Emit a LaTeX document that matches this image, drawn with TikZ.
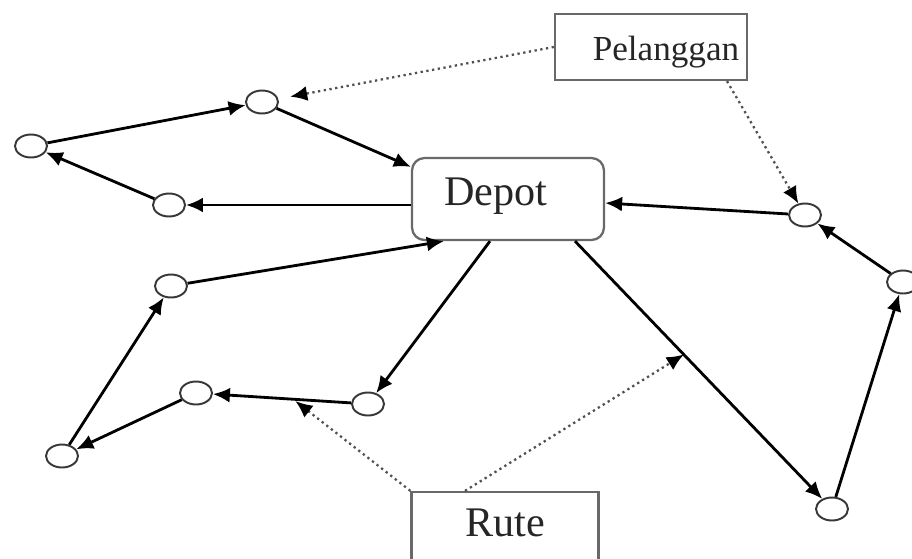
\documentclass[tikz,border=0pt]{standalone}
\usepackage{fontspec}
\setmainfont{Liberation Serif}
\usetikzlibrary{arrows.meta, shapes.geometric}

\definecolor{borde}{RGB}{105,105,105}
\definecolor{contorno}{RGB}{55,55,55}
\definecolor{puntos}{RGB}{80,80,80}

\begin{document}
\begin{tikzpicture}[x=0.02cm, y=-0.02cm,
    cliente/.style={ellipse, draw=contorno, line width=1.1pt, fill=white,
      minimum width=0.64cm, minimum height=0.46cm, inner sep=0pt},
    caja/.style={draw=borde, line width=1.3pt, fill=white, inner sep=0pt},
    etiqueta/.style={font=\fontsize{24}{28}\selectfont, text=black!85},
    ruta/.style={line width=1.6pt, -{Latex[length=0.34cm, width=0.3cm]}},
    punteada/.style={draw=puntos, line width=1.3pt, dash pattern=on 1.3pt off 2pt,
      -{Latex[length=0.34cm, width=0.3cm, color=black]}}]

  % Marco
  \useasboundingbox (0,0) rectangle (912,558);
  \clip (0,0) rectangle (912,558);

  % Deposito
  \node[caja, rounded corners=0.25cm, minimum width=3.84cm, minimum height=1.64cm,
    label={[etiqueta, xshift=-0.24cm, yshift=0.06cm]center:Depot}] (depot) at (508,199) {};

  % Cajas de texto
  \node[caja, minimum width=3.84cm, minimum height=1.32cm,
    label={[etiqueta, font=\fontsize{20}{24}\selectfont, xshift=0.3cm, yshift=-0.11cm]center:Pelanggan}]
    (pelanggan) at (651,47) {};
  \node[caja, minimum width=3.74cm, minimum height=1.8cm,
    label={[etiqueta, yshift=0.29cm]center:Rute}] (rute) at (505,537) {};

  % Clientes
  \node[cliente] (c1) at (262,102) {};
  \node[cliente] (c2) at (31,146) {};
  \node[cliente] (c3) at (169,205) {};
  \node[cliente] (c4) at (171,286) {};
  \node[cliente] (c5) at (62,456) {};
  \node[cliente] (c6) at (196,393) {};
  \node[cliente] (c7) at (368,404) {};
  \node[cliente] (c8) at (805,215) {};
  \node[cliente] (c9) at (903,282) {};
  \node[cliente] (c10) at (832,509) {};

  % Ruta 1
  \draw[ruta] (c2) -- (c1);
  \draw[ruta] (c1) -- ([yshift=-0.2cm]depot.north west);
  \draw[ruta] (depot.west |- c3) -- (c3);
  \draw[ruta] (c3) -- (c2);

  % Ruta 2
  \draw[ruta] (c4) -- ([xshift=0.66cm]depot.south west);
  \draw[ruta] (c5) -- (c4);
  \draw[ruta] (c6) -- (c5);
  \draw[ruta] (c7) -- coordinate[pos=0.42] (flechaA) (c6);
  \draw[ruta] ([xshift=-0.36cm]depot.south) -- (c7);

  % Ruta 3
  \draw[ruta] ([xshift=1.34cm]depot.south) -- coordinate[pos=0.44] (flechaB) (c10);
  \draw[ruta] (c10) -- (c9);
  \draw[ruta] (c9) -- (c8);
  \draw[ruta] (c8) -- ([yshift=-0.08cm]depot.east);

  % Flechas punteadas
  \draw[punteada, shorten >=0.24cm] (pelanggan.west) -- (c1);
  \draw[punteada] ([xshift=1.52cm]pelanggan.south) -- (c8);
  \draw[punteada, shorten >=0.06cm] (rute.north west) -- (flechaA);
  \draw[punteada] ([xshift=-0.8cm]rute.north) -- (flechaB);

\end{tikzpicture}
\end{document}
